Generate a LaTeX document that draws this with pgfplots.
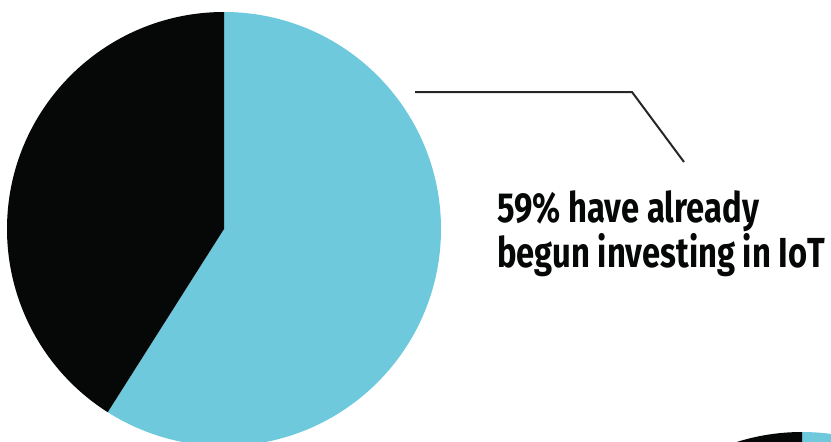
\documentclass[border=0pt]{standalone}
\usepackage{pgfplots}
\usepackage{pgfplotstable}
\pgfplotsset{compat=1.18}
\usepackage{fontspec}
\setmainfont{Fira Sans}
\newfontfamily\cond[FakeStretch=0.78]{Fira Sans Bold}
\definecolor{pieblue}{RGB}{109,201,219}
\definecolor{pieblack}{RGB}{6,8,7}
% share of respondents (percent)
\pgfplotstableread{
label value
invested 59
notyet 41
}\piedata
% second (cut-off) pie at lower right, only its top edge is visible
\pgfplotstableread{
label value
blue 60
black 40
}\piedatab
\begin{document}
\begin{tikzpicture}
\useasboundingbox (0,0) rectangle (831pt,442pt);
\clip (0,0) rectangle (831pt,442pt);
\begin{axis}[
  scale only axis, width=831pt, height=442pt,
  xmin=0, xmax=831, ymin=0, ymax=442,
  hide axis, clip=false,
]
\pgfplotstablegetelem{0}{value}\of\piedata \edef\va{\pgfplotsretval}
\pgfplotstablegetelem{1}{value}\of\piedata \edef\vb{\pgfplotsretval}
\fill[pieblue] (axis cs:224,213) -- ++(90:217pt) arc[start angle=90, delta angle={-3.6*\va}, radius=217pt] -- cycle;
\fill[pieblack] (axis cs:224,213) -- ++(90:217pt) arc[start angle=90, delta angle={3.6*\vb}, radius=217pt] -- cycle;
\pgfplotstablegetelem{0}{value}\of\piedatab \edef\vc{\pgfplotsretval}
\pgfplotstablegetelem{1}{value}\of\piedatab \edef\vd{\pgfplotsretval}
\fill[pieblue] (axis cs:802,-207) -- ++(90:217pt) arc[start angle=90, delta angle={-3.6*\vc}, radius=217pt] -- cycle;
\fill[pieblack] (axis cs:802,-207) -- ++(90:217pt) arc[start angle=90, delta angle={3.6*\vd}, radius=217pt] -- cycle;
\draw[line width=2pt, color=black!85] (axis cs:415,350) -- (axis cs:632,350) -- (axis cs:684,280);
\node[anchor=base west, inner sep=0pt, font=\cond\fontsize{42}{45}\selectfont, text=pieblack] at (axis cs:497,220) {59\% have already};
\node[anchor=base west, inner sep=0pt, font=\cond\fontsize{42}{45}\selectfont, text=pieblack] at (axis cs:497,175) {begun investing in IoT};
\end{axis}
\end{tikzpicture}
\end{document}
